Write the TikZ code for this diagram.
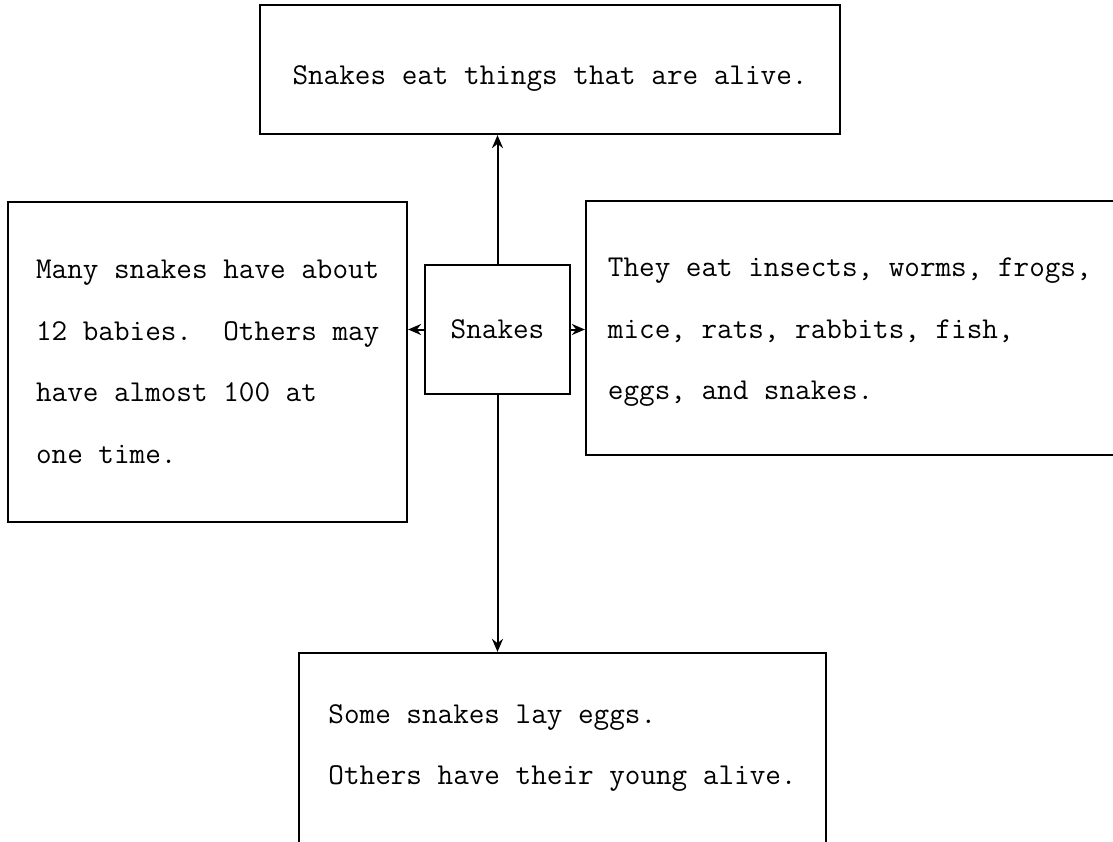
\documentclass[tikz,border=0pt]{standalone}
\usepackage{tikz}
\usetikzlibrary{positioning}
\usetikzlibrary{arrows.meta}
\tikzset{
    x=1pt, y=-1pt,
    every node/.append style={
        font=\ttfamily\fontsize{30.3}{61.5}\selectfont
    },
    notebox/.style={
        draw,
        line width=1.8pt,
        align=left,
        inner sep=0pt
    },
    every edge/.append style={
        draw,
        -{Stealth[length=13pt,width=11pt]},
        line width=2pt
    }
}

\begin{document}
\begin{tikzpicture}
    \useasboundingbox (0,0) rectangle (1113,841);
    \node[notebox, align=center, minimum width=145pt, minimum height=129pt] (snakes) at (497.5,329.5) {Snakes};
    \node[notebox, minimum width=580pt, minimum height=129pt, text height=36pt, above=129pt of snakes, xshift=52.5pt] (food) {Snakes eat things that are alive.};
    \node[notebox, minimum width=399pt, minimum height=320pt, left=16pt of snakes, yshift=-32.5pt] (babies) {Many snakes have about\\12 babies.\ \ Others may\\have almost 100 at\\one time.};
    \node[notebox, minimum width=528pt, minimum height=254pt, text height=150pt, right=14pt of snakes, yshift=1.5pt] (prey) {They eat insects, worms, frogs,\\mice, rats, rabbits, fish,\\eggs, and snakes.};
    \node[notebox, minimum width=527pt, minimum height=198pt, text depth=15pt, below=257pt of snakes, xshift=65pt] (young) {Some snakes lay eggs.\\Others have their young alive.};

    \draw (snakes.north) edge (snakes.north |- food.south);
    \draw (snakes.west) edge (snakes.west -| babies.east);
    \draw (snakes.east) edge (snakes.east -| prey.west);
    \draw (snakes.south) edge (snakes.south |- young.north);
\end{tikzpicture}
\end{document}
